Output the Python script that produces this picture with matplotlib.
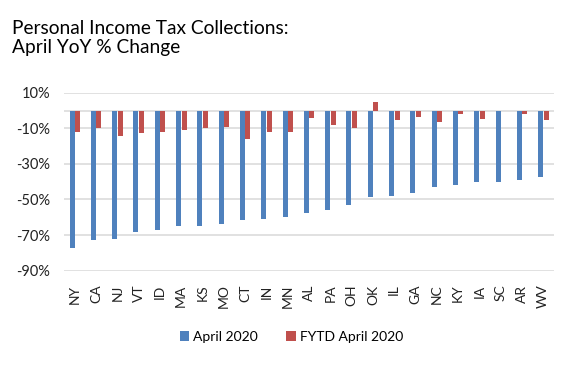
import matplotlib
matplotlib.use('Agg')
import matplotlib.pyplot as plt
import numpy as np

plt.rcParams['font.family'] = ['Lato', 'DejaVu Sans']

states = ['NY', 'CA', 'NJ', 'VT', 'ID', 'MA', 'KS', 'MO', 'CT', 'IN', 'MN', 'AL',
          'PA', 'OH', 'OK', 'IL', 'GA', 'NC', 'KY', 'IA', 'SC', 'AR', 'WV']
april_2020 = [-77.5, -73.0, -72.3, -68.5, -67.2, -65.0, -65.0, -63.9, -61.6, -61.0,
              -59.9, -57.7, -56.0, -53.2, -48.7, -48.3, -46.1, -42.7, -42.1, -40.4,
              -39.9, -38.8, -37.6]
fytd_april_2020 = [-12.2, -10.1, -14.4, -12.7, -12.2, -11.0, -10.1, -9.4, -16.1, -12.2,
                   -12.2, -4.3, -8.2, -9.9, 4.8, -5.6, -3.9, -6.7, -2.2, -4.5,
                   0.0, -2.2, -5.6]
yticks = [10, -10, -30, -50, -70, -90]

blue = '#4f81bd'
red = '#c0504d'
grid = '#d9d9d9'

fig = plt.figure(figsize=(5.77, 3.66), dpi=100)
ax = fig.add_axes([0.111, 0.2604, 0.849, 0.4863])

x = np.arange(len(states))
w = 0.235
ax.bar(x - 0.125, april_2020, w, color=blue, label='April 2020', zorder=3)
ax.bar(x + 0.135, fytd_april_2020, w, color=red, label='FYTD April 2020', zorder=3)

ax.set_xlim(-0.5, len(states) - 0.5)
ax.set_ylim(-90, 10)
ax.set_yticks(yticks)
ax.set_yticklabels([f'{t}%' for t in yticks], fontsize=10.5, color='#222222')
for t in yticks:
    ax.axhline(t, color=grid, lw=1.1, zorder=1)
ax.axhline(0, color=grid, lw=1.1, zorder=1)

ax.set_xticks(x)
ax.set_xticklabels(states, rotation=90, fontsize=10, color='#222222')
ax.tick_params(axis='both', length=0)
ax.tick_params(axis='y', pad=10)
ax.tick_params(axis='x', pad=10)
for s in ax.spines.values():
    s.set_visible(False)

fig.text(0.021, 0.945, 'Personal Income Tax Collections:\nApril YoY % Change',
         fontsize=13.8, va='top', ha='left', linespacing=1.15)

fig.legend(loc='center', bbox_to_anchor=(0.505, 0.08), ncol=2, frameon=False,
           fontsize=10, handlelength=0.7, handleheight=0.7, handletextpad=0.3,
           columnspacing=2.0)

plt.savefig('out.png', dpi=100)
